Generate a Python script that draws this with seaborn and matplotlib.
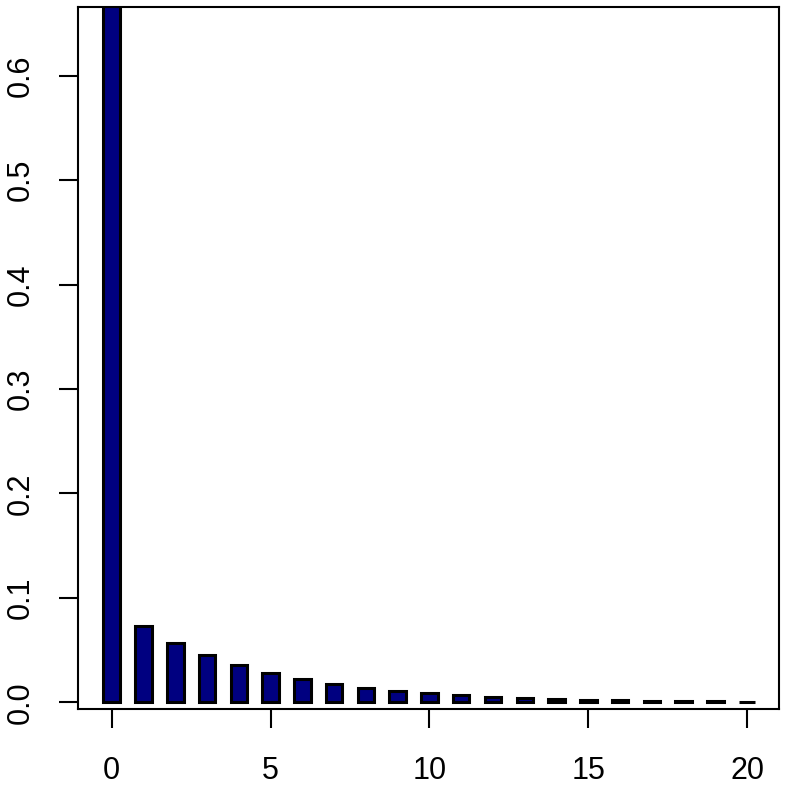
import matplotlib
matplotlib.use("Agg")
import matplotlib.pyplot as plt
import pandas as pd
import seaborn as sns

# counts 0..20 and their probabilities
counts = list(range(21))
probs = [0.667, 0.0728, 0.0571, 0.0453, 0.0357, 0.0284, 0.0223, 0.0175,
         0.0137, 0.0111, 0.0086, 0.0067, 0.0053, 0.0041, 0.0032, 0.0025,
         0.0020, 0.0015, 0.0012, 0.0009, 0.0007]
x_ticks = [0, 5, 10, 15, 20]
y_ticks = [0.0, 0.1, 0.2, 0.3, 0.4, 0.5, 0.6]

sns.set_style("white")
plt.rcParams["font.family"] = ["Liberation Sans", "DejaVu Sans"]

df = pd.DataFrame({"k": counts, "p": probs})

fig = plt.figure(figsize=(7.89, 8.09), dpi=100)
ax = fig.add_axes([0.0985, 0.1236, 0.8888, 0.8677])

sns.barplot(data=df, x="k", y="p", native_scale=True, width=0.52,
            color="#000080", saturation=1, edgecolor="black", linewidth=2.2,
            ax=ax)

ax.set_xlim(-1.07, 21.0)
ax.set_ylim(-0.0064, 0.6657)
ax.set_xticks(x_ticks)
ax.set_xticklabels([str(t) for t in x_ticks])
ax.set_yticks(y_ticks)
ax.set_yticklabels([f"{t:.1f}" for t in y_ticks], rotation=90, va="center")
ax.set_xlabel("")
ax.set_ylabel("")

for s in ax.spines.values():
    s.set_visible(True)
    s.set_color("black")
    s.set_linewidth(1.5)

ax.tick_params(axis="both", which="major", length=14, width=1.5,
               color="black", labelcolor="black", labelsize=22,
               bottom=True, left=True)
ax.tick_params(axis="x", pad=20)
ax.tick_params(axis="y", pad=16)

fig.savefig("out.png", dpi=100)
plt.close(fig)
